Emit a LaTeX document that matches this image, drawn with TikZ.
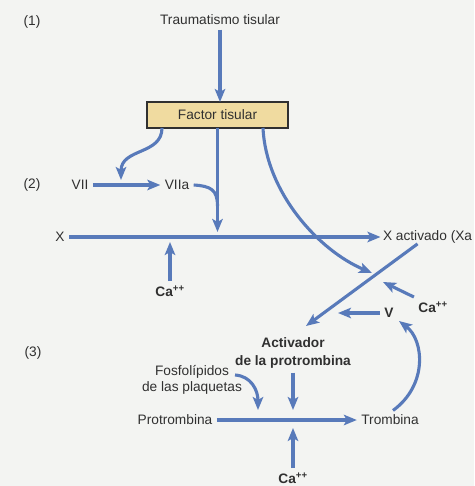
\documentclass[tikz,border=0pt]{standalone}
\usepackage{fontspec}
\setmainfont{Liberation Sans}
\usetikzlibrary{arrows.meta}
\definecolor{paper}{RGB}{243,244,242}
\definecolor{flow}{RGB}{88,122,186}
\definecolor{boxfill}{RGB}{240,219,160}
\definecolor{ink}{RGB}{48,48,48}
\tikzset{
  lbl/.style={text=ink, font=\fontsize{13.7}{16}\selectfont, inner sep=1pt, outer sep=3.5pt},
  blbl/.style={lbl, font=\fontsize{13.7}{17.5}\selectfont\bfseries},
  arr/.style={draw=flow, line width=3.1pt,
    -{Stealth[length=13pt,width=10.5pt,inset=3pt]}},
  link/.style={draw=flow, line width=3.1pt},
  factorbox/.style={draw=ink, line width=1.2pt, fill=boxfill,
    minimum width=141pt, minimum height=26pt, lbl, outer sep=0pt}
}
\begin{document}
\begin{tikzpicture}[x=1pt,y=-1pt]
\fill[paper] (0,0) rectangle (474,486);
\useasboundingbox (0,0) rectangle (474,486);

% stage labels
\node[lbl] (s1) at (32,22) {(1)};
\node[lbl] (s2) at (32,185) {(2)};
\node[lbl] (s3) at (33,353) {(3)};

% stage 1
\node[lbl] (trauma) at (220,20) {Traumatismo tisular};
\node[factorbox] (ft) at (217.5,115) {Factor tisular};
\draw[arr] (trauma.south) -- (trauma.south |- ft.north);

% stage 2
\node[lbl] (vii) at (80,185) {VII};
\node[lbl] (viia) at (177,185) {VIIa};
\draw[arr] (vii) -- (viia);
\coordinate (k1) at (121,180);
\draw[arr] (162,128) .. controls (162,155) and (121,148) .. (k1);

\node[lbl] (x) at (60,237) {X};
\node[lbl, anchor=west, outer sep=1.5pt] (xa) at (380.5,237) {X activado (Xa};
\draw[arr] (x) -- (xa);

\coordinate (k2) at (217.5,232);
\draw[arr] (ft.south) -- (k2);
\draw[link] (viia.east) .. controls (211,186) and (217.5,190) .. (217.5,206);

\node[blbl] (ca1) at (170,291) {Ca\textsuperscript{++}};
\coordinate (k3) at (170,242);
\draw[arr] (ca1.north) -- (k3);

\coordinate (k4) at (372,273);
\draw[arr] (263,128) .. controls (266,192) and (318,250) .. (k4);

% stage 3
\node[blbl, align=center] (act) at (293,353) {Activador\\de la protrombina};
\coordinate (k5) at (306,326);
\draw[arr] ([xshift=-10pt,yshift=2pt]xa.south) -- (k5);

\node[blbl] (ca2) at (433,307) {Ca\textsuperscript{++}};
\coordinate (k6) at (383,282);
\draw[arr] (ca2.north west) -- (k6);

\node[blbl] (v) at (389,313) {V};
\coordinate (k7) at (338,313);
\draw[arr] (v.west) -- (k7);

\node[lbl, align=center] (fosf) at (192,380) {Fosfolípidos\\de las plaquetas};
\node[lbl] (prot) at (175,420) {Protrombina};
\node[lbl] (trom) at (390,420) {Trombina};
\draw[arr] (prot) -- (trom);

\coordinate (k8) at (293,410);
\draw[arr] (act.south) -- (k8);
\coordinate (k9) at (258,410);
\draw[arr] (235,375) .. controls (251,376) and (258,390) .. (k9);

\node[blbl] (ca3) at (293,478) {Ca\textsuperscript{++}};
\coordinate (k10) at (293,428);
\draw[arr] (ca3.north) -- (k10);

\coordinate (k11) at (399,321);
\draw[arr] ([xshift=3pt]trom.north) .. controls (428,385) and (424,340) .. (k11);
\end{tikzpicture}
\end{document}
